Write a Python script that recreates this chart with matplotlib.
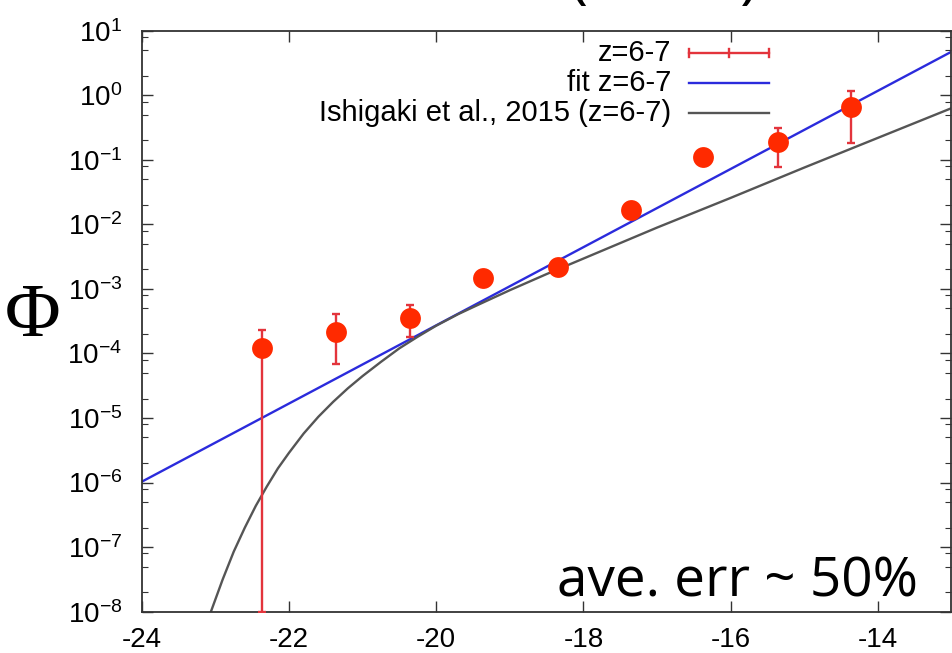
import numpy as np
import matplotlib
matplotlib.use("Agg")
import matplotlib.pyplot as plt
from matplotlib.lines import Line2D
from matplotlib.ticker import LogLocator, NullFormatter

plt.rcParams['font.family'] = ['Liberation Sans', 'DejaVu Sans']
plt.rcParams['mathtext.fontset'] = 'custom'
plt.rcParams['mathtext.rm'] = 'Liberation Sans'
plt.rcParams['mathtext.it'] = 'Liberation Sans:italic'
plt.rcParams['axes.unicode_minus'] = False

# binned UV luminosity function, z=6-7
mag = [-22.37, -21.36, -20.35, -19.36, -18.35, -17.35, -16.37, -15.36, -14.36]
phi = [1.20e-4, 2.17e-4, 3.58e-4, 1.49e-3, 2.21e-3, 1.67e-2, 0.112, 0.191, 0.665]
phi_hi = [2.3e-4, 4.04e-4, 5.6e-4, 1.8e-3, 2.7e-3, 2.0e-2, 0.13, 0.308, 1.18]
phi_lo = [1e-8, 6.8e-5, 1.82e-4, 1.2e-3, 1.8e-3, 1.4e-2, 0.095, 0.078, 0.180]

# power-law fit (end points)
fit_mag = [-24.0, -13.0]
fit_phi = [1.03e-6, 4.73]

# Ishigaki et al. 2015 Schechter curve, log10(phi)
ishi_mag = [-23.06, -22.9, -22.75, -22.6, -22.45, -22.3, -22.15, -22.0,
            -21.8, -21.6, -21.4, -21.2, -21.0, -20.75, -20.5, -20.25,
            -20.0, -19.7, -19.4, -19.0, -18.5, -18.0, -17.0, -16.0,
            -15.0, -14.0, -13.0]
ishi_logphi = [-8.00, -7.50, -7.07, -6.70, -6.36, -6.06, -5.78, -5.54,
               -5.24, -4.98, -4.75, -4.54, -4.35, -4.13, -3.92, -3.74,
               -3.57, -3.39, -3.23, -3.02, -2.77, -2.53, -2.05, -1.59,
               -1.12, -0.66, -0.20]

legend_labels = ['z=6-7', 'fit z=6-7', 'Ishigaki et al., 2015 (z=6-7)']

RED = '#ff2a00'
ERR = '#e3343c'
BLUE = '#2b2bdc'
GRAY = '#555555'

W, H = 953, 653
fig = plt.figure(figsize=(W / 100, H / 100), dpi=100)
ax = fig.add_axes([141.7 / W, 1 - 611.7 / H, (951.5 - 141.7) / W, (611.7 - 30.7) / H])

phi_a = np.array(phi)
yerr = [phi_a - np.array(phi_lo), np.array(phi_hi) - phi_a]

ax.plot(fit_mag, fit_phi, color=BLUE, lw=1.7, zorder=2)
ax.plot(ishi_mag, 10 ** np.array(ishi_logphi), color=GRAY, lw=1.7, zorder=2)
ax.errorbar(mag, phi, yerr=yerr, fmt='none', ecolor=ERR, elinewidth=1.7,
            capsize=3, capthick=1.7, zorder=3)
ax.plot(mag, phi, 'o', color=RED, ms=15, mec='none', zorder=4)

ax.set_yscale('log')
ax.set_xlim(-24, -13)
ax.set_ylim(1e-8, 10)
ax.set_xticks(np.arange(-24, -13, 2))
ax.yaxis.set_major_locator(LogLocator(base=10, numticks=20))
ax.yaxis.set_minor_locator(LogLocator(base=10, subs=(2, 5, 8), numticks=20))
ax.yaxis.set_minor_formatter(NullFormatter())

ax.tick_params(which='both', direction='in', top=True, right=True, colors='#333333')
ax.tick_params(which='major', length=8, width=1.0, labelsize=20, labelcolor='black')
ax.tick_params(axis='x', which='major', pad=11)
ax.tick_params(axis='y', which='major', pad=14)
ax.tick_params(which='minor', length=4, width=0.8)
for sp in ax.spines.values():
    sp.set_linewidth(1.3)
    sp.set_color('#333333')

# key, drawn in pixel positions
def px(x, y):
    return x / W, 1 - y / H

rows = [53.3, 82.7, 112.7]
x0, x1, xt = 689, 769, 671
for lab, y in zip(legend_labels, rows):
    fig.text(*px(xt, y + 8), lab, ha='right', va='baseline', fontsize=21)

(a, b), (c, d) = px(x0, rows[0]), px(x1, rows[0])
fig.add_artist(Line2D([a, c], [b, d], color=ERR, lw=1.7))
for xc in (x0, (x0 + x1) / 2, x1):
    u, v0 = px(xc, rows[0] - 4)
    _, v1 = px(xc, rows[0] + 4)
    fig.add_artist(Line2D([u, u], [v0, v1], color=ERR, lw=1.7))
for y, col in zip(rows[1:], [BLUE, GRAY]):
    (a, b), (c, d) = px(x0, y), px(x1, y)
    fig.add_artist(Line2D([a, c], [b, d], color=col, lw=1.7))

fig.text(*px(33, 317), 'Φ', family=['Liberation Serif', 'DejaVu Serif'],
         fontsize=55, ha='center', va='center')
fig.text(*px(918, 596.7), 'ave. err ~ 50%', family=['Open Sans', 'DejaVu Sans'],
         fontsize=39.5, ha='right', va='baseline')
fig.text(*px(664.5, -4), '(z=6-7)', family=['Open Sans', 'DejaVu Sans'],
         fontsize=44, ha='center', va='baseline')

fig.savefig('out.png', dpi=100)
